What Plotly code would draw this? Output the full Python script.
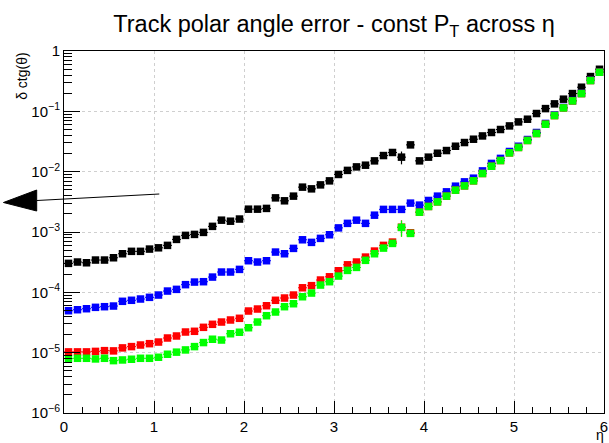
import numpy as np
import plotly.graph_objects as go

# Binning in pseudorapidity: 60 bins of width 0.1 from 0 to 6
eta_lo, eta_hi, n_bins = 0.0, 6.0, 60
bin_w = (eta_hi - eta_lo) / n_bins
eta = eta_lo + bin_w * (np.arange(n_bins) + 0.5)

# Polar-angle resolution, delta ctg(theta), one series per transverse momentum
err_black = [
    3.02e-4, 3.18e-4, 3.09e-4, 3.43e-4, 3.43e-4, 3.74e-4, 4.36e-4, 4.78e-4, 4.78e-4, 5.21e-4,
    5.47e-4, 6.00e-4, 7.54e-4, 8.79e-4, 9.12e-4, 9.85e-4, 1.24e-3, 1.57e-3, 1.51e-3, 1.64e-3,
    2.39e-3, 2.39e-3, 2.46e-3, 3.68e-3, 3.29e-3, 3.93e-3, 5.54e-3, 5.19e-3, 6.04e-3, 7.04e-3,
    8.99e-3, 1.05e-2, 1.20e-2, 1.28e-2, 1.51e-2, 1.85e-2, 2.08e-2, 1.74e-2, 2.78e-2, 1.51e-2,
    1.74e-2, 2.02e-2, 2.24e-2, 2.64e-2, 3.04e-2, 3.45e-2, 3.91e-2, 4.46e-2, 5.00e-2, 5.73e-2,
    6.68e-2, 7.40e-2, 9.20e-2, 0.111, 0.133, 0.159, 0.197, 0.251, 0.377, 0.498,
]
err_blue = [
    4.96e-5, 5.15e-5, 5.35e-5, 5.64e-5, 5.78e-5, 5.93e-5, 7.10e-5, 7.38e-5, 7.75e-5, 8.26e-5,
    9.02e-5, 1.05e-4, 1.12e-4, 1.34e-4, 1.48e-4, 1.50e-4, 1.79e-4, 2.17e-4, 2.17e-4, 2.40e-4,
    3.34e-4, 3.18e-4, 3.34e-4, 4.65e-4, 4.36e-4, 5.35e-4, 7.43e-4, 6.73e-4, 7.84e-4, 9.00e-4,
    1.17e-3, 1.39e-3, 1.57e-3, 1.39e-3, 1.90e-3, 2.37e-3, 2.37e-3, 2.37e-3, 3.01e-3, 2.79e-3,
    3.33e-3, 3.93e-3, 4.63e-3, 5.75e-3, 6.78e-3, 7.80e-3, 1.03e-2, 1.37e-2, 1.66e-2, 2.16e-2,
    2.64e-2, 3.41e-2, 4.46e-2, 6.30e-2, 8.70e-2, 0.116, 0.151, 0.199, 0.327, 0.447,
]
err_red = [
    1.03e-5, 1.03e-5, 1.03e-5, 1.05e-5, 1.08e-5, 1.07e-5, 1.20e-5, 1.26e-5, 1.34e-5, 1.41e-5,
    1.50e-5, 1.75e-5, 1.89e-5, 2.20e-5, 2.26e-5, 2.63e-5, 2.95e-5, 3.22e-5, 3.48e-5, 3.71e-5,
    4.90e-5, 5.29e-5, 6.00e-5, 7.38e-5, 8.05e-5, 9.02e-5, 1.19e-4, 1.29e-4, 1.60e-4, 1.81e-4,
    2.28e-4, 2.86e-4, 3.18e-4, 3.84e-4, 4.83e-4, 6.00e-4, 6.81e-4, 1.20e-3, 9.70e-4, 2.13e-3,
    2.65e-3, 3.16e-3, 3.93e-3, 4.94e-3, 5.82e-3, 7.05e-3, 9.33e-3, 1.23e-2, 1.53e-2, 2.05e-2,
    2.52e-2, 3.29e-2, 4.29e-2, 6.11e-2, 8.51e-2, 0.114, 0.149, 0.197, 0.324, 0.444,
]
err_green = [
    7.96e-6, 8.07e-6, 8.07e-6, 7.87e-6, 8.07e-6, 7.38e-6, 7.57e-6, 7.78e-6, 8.07e-6, 8.07e-6,
    8.39e-6, 9.41e-6, 1.02e-5, 1.11e-5, 1.26e-5, 1.47e-5, 1.67e-5, 1.62e-5, 2.06e-5, 2.18e-5,
    2.59e-5, 3.22e-5, 4.10e-5, 4.72e-5, 5.78e-5, 6.47e-5, 8.45e-5, 9.73e-5, 1.32e-4, 1.50e-4,
    1.86e-4, 2.31e-4, 2.59e-4, 3.39e-4, 4.36e-4, 5.41e-4, 6.47e-4, 1.19e-3, 9.48e-4, 2.13e-3,
    2.65e-3, 3.16e-3, 3.93e-3, 4.94e-3, 5.82e-3, 7.05e-3, 9.33e-3, 1.23e-2, 1.53e-2, 2.05e-2,
    2.52e-2, 3.29e-2, 4.29e-2, 6.11e-2, 8.51e-2, 0.114, 0.149, 0.197, 0.324, 0.444,
]

# Relative statistical uncertainty per bin (the eta = 3.75 bin is poorly populated)
rel_unc = [0.02] * n_bins
rel_unc_black = list(rel_unc); rel_unc_black[37] = 0.24
rel_unc_red = list(rel_unc); rel_unc_red[37] = 0.30
rel_unc_green = list(rel_unc); rel_unc_green[37] = 0.30

series = [
    ("black", err_black, rel_unc_black, "#000000"),
    ("blue", err_blue, rel_unc, "#0000ff"),
    ("red", err_red, rel_unc_red, "#ff0000"),
    ("green", err_green, rel_unc_green, "#00ff00"),
]

y_tickvals = [1e-6, 1e-5, 1e-4, 1e-3, 1e-2, 1e-1, 1]
y_ticktext = ["10<sup>−6</sup>", "10<sup>−5</sup>", "10<sup>−4</sup>", "10<sup>−3</sup>",
              "10<sup>−2</sup>", "10<sup>−1</sup>", "1"]
y_minor = [m * 10.0 ** e for e in range(-6, 0) for m in range(2, 10)]

FONT = "Liberation Sans, Arial, Helvetica, sans-serif"
W, H = 609, 443
M = dict(l=64, r=1, t=51, b=30)

fig = go.Figure()
for name, vals, rel, col in series:
    v = np.array(vals)
    fig.add_trace(go.Scatter(
        x=eta, y=v, name=name, mode="markers",
        marker=dict(symbol="square", size=7.5, color=col, line=dict(width=0)),
        error_x=dict(type="constant", value=bin_w / 2, color=col, thickness=1, width=0),
        error_y=dict(type="data", array=v * np.array(rel), color=col, thickness=1.2, width=0),
        showlegend=False,
    ))

grid = dict(showgrid=True, gridcolor="#cfcfcf", griddash="dot", gridwidth=1)
fig.update_xaxes(
    range=[eta_lo, eta_hi], dtick=1, tick0=0, ticks="inside", ticklen=12, tickcolor="black",
    showline=True, linecolor="black", linewidth=1, mirror=True, zeroline=False,
    ticklabeloverflow="allow",
    tickfont=dict(family=FONT, size=15, color="black"),
    minor=dict(dtick=0.2, ticks="inside", ticklen=6, tickcolor="black", showgrid=False),
    **grid,
)
fig.update_yaxes(
    type="log", range=[-6, 0], tickvals=y_tickvals, ticktext=y_ticktext,
    ticks="inside", ticklen=16, tickcolor="black",
    showline=True, linecolor="black", linewidth=1, mirror=True, zeroline=False,
    ticklabeloverflow="allow",
    tickfont=dict(family=FONT, size=15, color="black"),
    minor=dict(tickvals=y_minor, ticks="inside", ticklen=8, tickcolor="black", showgrid=False),
    **grid,
)

def px_to_paper(px, py):
    pw = W - M["l"] - M["r"]
    ph = H - M["t"] - M["b"]
    return (px - M["l"]) / pw, (H - M["b"] - py) / ph

# Arrow pointing out of the frame to the left
tail = px_to_paper(160, 194)
neck = px_to_paper(36.5, 200.5)
tip = px_to_paper(3, 202.5)
b1 = px_to_paper(36.5, 190)
b2 = px_to_paper(36.5, 211)
fig.add_shape(type="line", xref="paper", yref="paper",
              x0=tail[0], y0=tail[1], x1=neck[0], y1=neck[1],
              line=dict(color="black", width=1))
fig.add_shape(type="path", xref="paper", yref="paper",
              path=f"M {tip[0]},{tip[1]} L {b1[0]},{b1[1]} L {b2[0]},{b2[1]} Z",
              fillcolor="black", line=dict(color="black", width=1))

# Axis titles placed at the axis ends
ytx, yty = px_to_paper(21, 51)
fig.add_annotation(text="δ ctg(θ)", textangle=-90, xref="paper", yref="paper",
                   x=ytx, y=yty, xanchor="center", yanchor="top", showarrow=False,
                   font=dict(family=FONT, size=14, color="black"))
xtx, xty = px_to_paper(604, 425)
fig.add_annotation(text="η", xref="paper", yref="paper", x=xtx, y=xty,
                   xanchor="center", yanchor="top", showarrow=False,
                   font=dict(family=FONT, size=14, color="black"))

fig.update_layout(
    width=W, height=H, margin=M,
    paper_bgcolor="white", plot_bgcolor="white",
    title=dict(text="Track polar angle error - const P<sub>T</sub> across η",
               x=0.5, xref="paper", xanchor="center",
               y=1 - 24 / H, yref="container", yanchor="middle",
               font=dict(family=FONT, size=23.5, color="black")),
)

fig.write_html("out.html")
